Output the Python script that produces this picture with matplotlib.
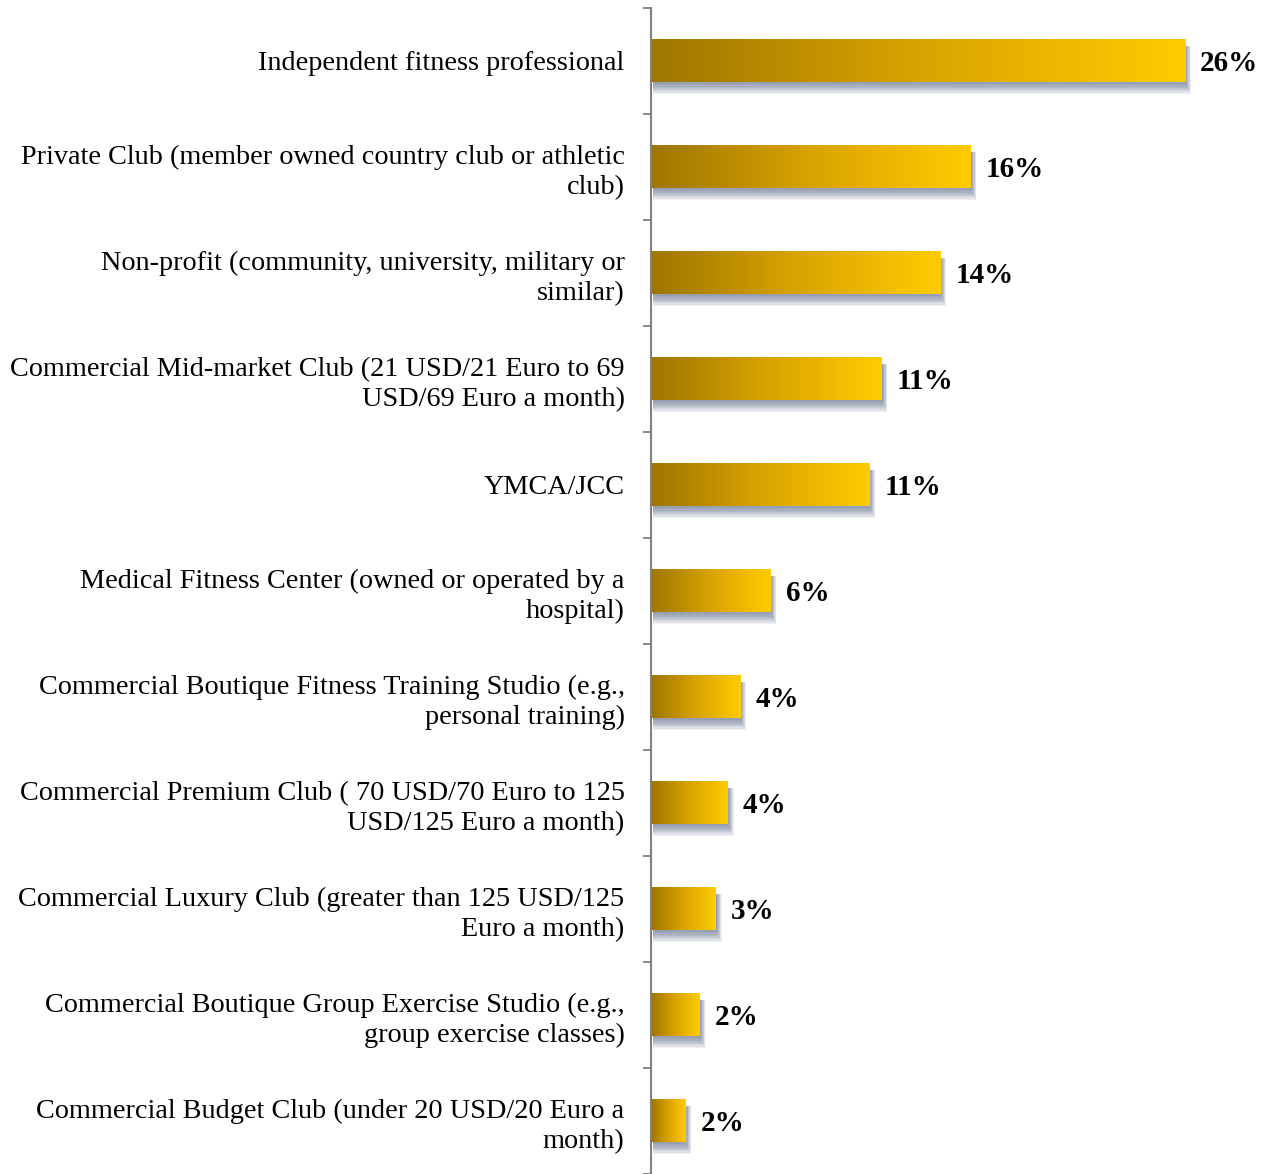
import matplotlib.pyplot as plt
import numpy as np
from matplotlib.colors import LinearSegmentedColormap
from matplotlib.patches import Rectangle

# data (percent of respondents)
categories = [
    'Independent fitness professional',
    'Private Club (member owned country club or athletic\nclub)',
    'Non-profit (community, university, military or\nsimilar)',
    'Commercial Mid-market Club (21 USD/21 Euro to 69\nUSD/69 Euro a month)',
    'YMCA/JCC',
    'Medical Fitness Center (owned or operated by a\nhospital)',
    'Commercial Boutique Fitness Training Studio (e.g.,\npersonal training)',
    'Commercial Premium Club ( 70 USD/70 Euro to 125\nUSD/125 Euro a month)',
    'Commercial Luxury Club (greater than 125 USD/125\nEuro a month)',
    'Commercial Boutique Group Exercise Studio (e.g.,\ngroup exercise classes)',
    'Commercial Budget Club (under 20 USD/20 Euro a\nmonth)',
]
values = [26.4, 15.8, 14.3, 11.4, 10.8, 5.9, 4.4, 3.8, 3.2, 2.4, 1.7]
value_labels = ['26%', '16%', '14%', '11%', '11%', '6%', '4%', '4%', '3%', '2%', '2%']

plt.rcParams['font.family'] = ['Liberation Serif', 'DejaVu Serif']

fig = plt.figure(figsize=(12.76, 11.74), dpi=100)
ax = fig.add_axes([651 / 1276, 0.0, 1 - 651 / 1276, 1 - 8 / 1174])

n = len(categories)
ypos = np.arange(n)
bar_h = 0.40
px_x = 1 / 20.23      # one pixel in x data units
px_y = 1 / 106.2      # one pixel in y data units
cmap = LinearSegmentedColormap.from_list('gold', ['#9e7600', '#d9a300', '#ffcc00'])
grad = np.linspace(0, 1, 256).reshape(1, -1)

for y, v, lab in zip(ypos, values, value_labels):
    top = y - bar_h / 2
    # soft shadow mostly below the bar, a little to the right
    for k in range(9):
        x0 = 2 * px_x
        y0 = top + 6 * px_y
        w = v + (1 + k * 0.6) * px_x - x0
        h = bar_h + (k * 1.2 - 4) * px_y
        ax.add_patch(Rectangle((x0, y0), w, h, facecolor='#4f5f80', edgecolor='none',
                               alpha=0.09, zorder=1))
    ax.imshow(grad, cmap=cmap, aspect='auto', interpolation='bicubic',
              extent=(0, v, y + bar_h / 2, top), zorder=2)
    ax.text(v + 0.75, y + 0.02, lab, ha='left', va='center', fontsize=21,
            fontweight='bold', color='black', zorder=3)

ax.set_xlim(0, 625 * px_x)
ax.set_ylim(n - 0.5, -0.5)

ax.set_yticks(ypos)
ax.set_yticklabels(categories, fontsize=20.3, ha='right', multialignment='right',
                   linespacing=1.25)
ax.tick_params(axis='y', which='major', length=0, pad=19)
ax.set_yticks(np.arange(n + 1) - 0.5, minor=True)
ax.tick_params(axis='y', which='minor', length=5.5, width=1.3, color='#808080', direction='out')
ax.set_xticks([])

for s in ['top', 'right', 'bottom']:
    ax.spines[s].set_visible(False)
ax.spines['left'].set_color('#808080')
ax.spines['left'].set_linewidth(1.5)

fig.savefig('out.png', dpi=100)
